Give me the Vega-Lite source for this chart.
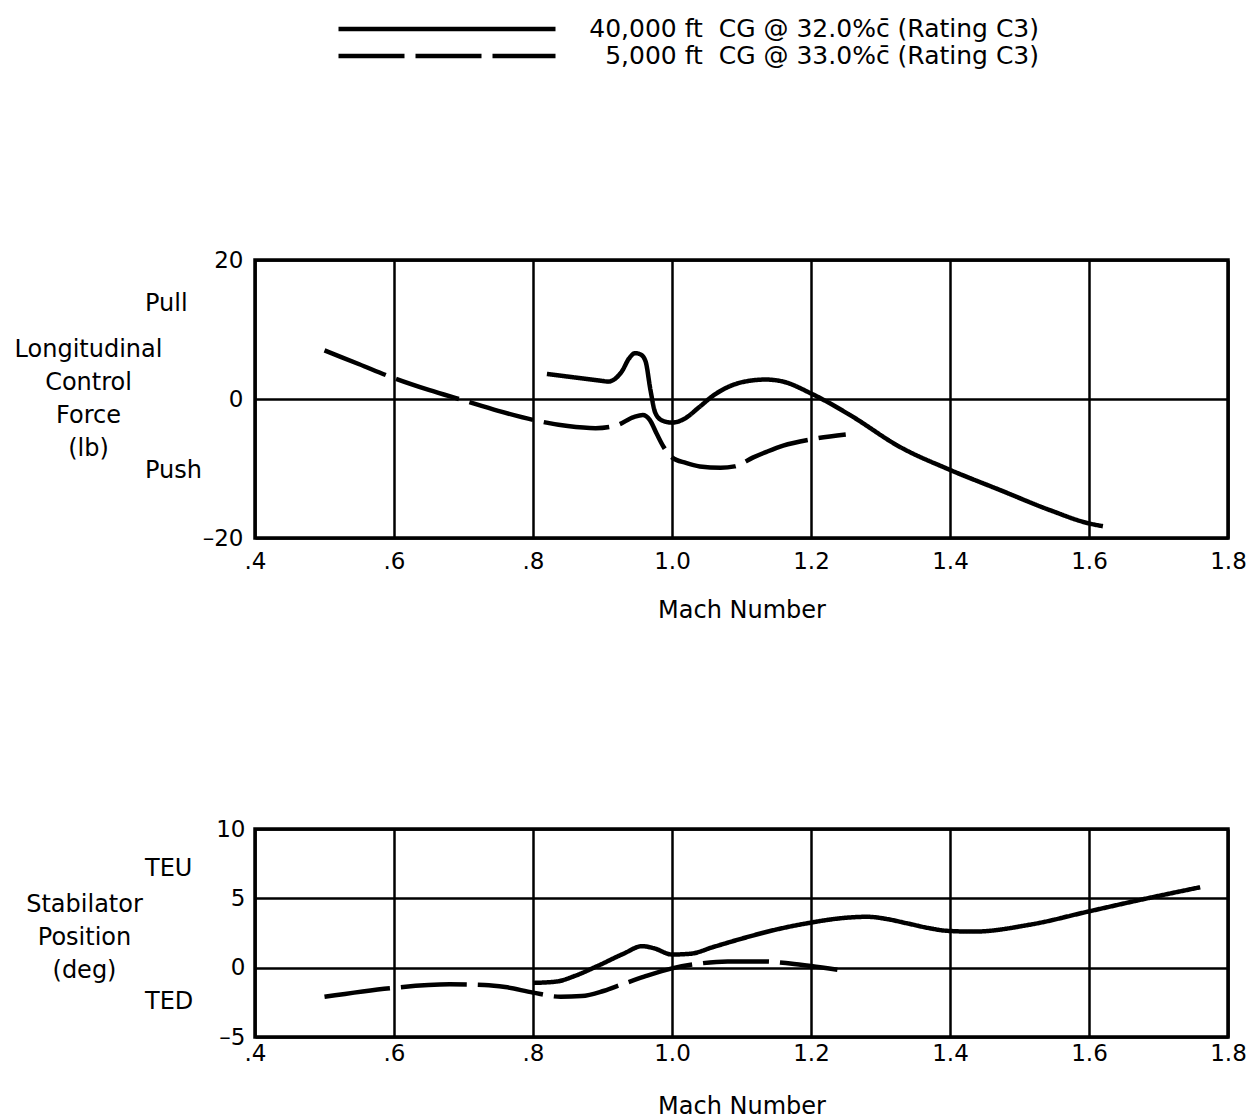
{
  "$schema": "https://vega.github.io/schema/vega-lite/v6.json",
  "background": "white",
  "padding": {"left": 12, "top": 16, "right": 5, "bottom": 5},
  "spacing": 192,
  "config": {
    "font": "DejaVu Sans",
    "view": {"stroke": "black", "strokeWidth": 3.5},
    "axis": {
      "domain": false, "ticks": false, "grid": true,
      "gridColor": "black", "gridWidth": 2.5, "gridOpacity": 1,
      "labelFont": "DejaVu Sans", "labelFontSize": 23, "labelColor": "black",
      "titleFont": "DejaVu Sans", "titleFontSize": 24, "titleColor": "black", "titleFontWeight": "normal"
    },
    "text": {"font": "DejaVu Sans", "fontSize": 24, "color": "black"}
  },
  "datasets": {
    "force": [
      {"mach": 0.82, "value": 3.6, "series": "40,000 ft\u00a0\u00a0CG @ 32.0%c\u0304 (Rating C3)"},
      {"mach": 0.86, "value": 3.1, "series": "40,000 ft\u00a0\u00a0CG @ 32.0%c\u0304 (Rating C3)"},
      {"mach": 0.9, "value": 2.6, "series": "40,000 ft\u00a0\u00a0CG @ 32.0%c\u0304 (Rating C3)"},
      {"mach": 0.908, "value": 2.5, "series": "40,000 ft\u00a0\u00a0CG @ 32.0%c\u0304 (Rating C3)"},
      {"mach": 0.918, "value": 2.9, "series": "40,000 ft\u00a0\u00a0CG @ 32.0%c\u0304 (Rating C3)"},
      {"mach": 0.928, "value": 4.0, "series": "40,000 ft\u00a0\u00a0CG @ 32.0%c\u0304 (Rating C3)"},
      {"mach": 0.938, "value": 5.8, "series": "40,000 ft\u00a0\u00a0CG @ 32.0%c\u0304 (Rating C3)"},
      {"mach": 0.947, "value": 6.6, "series": "40,000 ft\u00a0\u00a0CG @ 32.0%c\u0304 (Rating C3)"},
      {"mach": 0.955, "value": 6.4, "series": "40,000 ft\u00a0\u00a0CG @ 32.0%c\u0304 (Rating C3)"},
      {"mach": 0.962, "value": 5.4, "series": "40,000 ft\u00a0\u00a0CG @ 32.0%c\u0304 (Rating C3)"},
      {"mach": 0.969, "value": 1.3, "series": "40,000 ft\u00a0\u00a0CG @ 32.0%c\u0304 (Rating C3)"},
      {"mach": 0.976, "value": -2.0, "series": "40,000 ft\u00a0\u00a0CG @ 32.0%c\u0304 (Rating C3)"},
      {"mach": 0.986, "value": -3.1, "series": "40,000 ft\u00a0\u00a0CG @ 32.0%c\u0304 (Rating C3)"},
      {"mach": 1.0, "value": -3.4, "series": "40,000 ft\u00a0\u00a0CG @ 32.0%c\u0304 (Rating C3)"},
      {"mach": 1.015, "value": -3.0, "series": "40,000 ft\u00a0\u00a0CG @ 32.0%c\u0304 (Rating C3)"},
      {"mach": 1.04, "value": -1.1, "series": "40,000 ft\u00a0\u00a0CG @ 32.0%c\u0304 (Rating C3)"},
      {"mach": 1.058, "value": 0.4, "series": "40,000 ft\u00a0\u00a0CG @ 32.0%c\u0304 (Rating C3)"},
      {"mach": 1.08, "value": 1.7, "series": "40,000 ft\u00a0\u00a0CG @ 32.0%c\u0304 (Rating C3)"},
      {"mach": 1.11, "value": 2.6, "series": "40,000 ft\u00a0\u00a0CG @ 32.0%c\u0304 (Rating C3)"},
      {"mach": 1.135, "value": 2.8, "series": "40,000 ft\u00a0\u00a0CG @ 32.0%c\u0304 (Rating C3)"},
      {"mach": 1.16, "value": 2.5, "series": "40,000 ft\u00a0\u00a0CG @ 32.0%c\u0304 (Rating C3)"},
      {"mach": 1.2, "value": 0.8, "series": "40,000 ft\u00a0\u00a0CG @ 32.0%c\u0304 (Rating C3)"},
      {"mach": 1.256, "value": -2.3, "series": "40,000 ft\u00a0\u00a0CG @ 32.0%c\u0304 (Rating C3)"},
      {"mach": 1.328, "value": -6.9, "series": "40,000 ft\u00a0\u00a0CG @ 32.0%c\u0304 (Rating C3)"},
      {"mach": 1.4, "value": -10.2, "series": "40,000 ft\u00a0\u00a0CG @ 32.0%c\u0304 (Rating C3)"},
      {"mach": 1.472, "value": -13.1, "series": "40,000 ft\u00a0\u00a0CG @ 32.0%c\u0304 (Rating C3)"},
      {"mach": 1.544, "value": -16.0, "series": "40,000 ft\u00a0\u00a0CG @ 32.0%c\u0304 (Rating C3)"},
      {"mach": 1.6, "value": -17.9, "series": "40,000 ft\u00a0\u00a0CG @ 32.0%c\u0304 (Rating C3)"},
      {"mach": 1.62, "value": -18.3, "series": "40,000 ft\u00a0\u00a0CG @ 32.0%c\u0304 (Rating C3)"},
      {"mach": 0.5, "value": 7.0, "series": "5,000 ft\u00a0\u00a0CG @ 33.0%c\u0304 (Rating C3)"},
      {"mach": 0.55, "value": 5.0, "series": "5,000 ft\u00a0\u00a0CG @ 33.0%c\u0304 (Rating C3)"},
      {"mach": 0.6, "value": 3.0, "series": "5,000 ft\u00a0\u00a0CG @ 33.0%c\u0304 (Rating C3)"},
      {"mach": 0.65, "value": 1.3, "series": "5,000 ft\u00a0\u00a0CG @ 33.0%c\u0304 (Rating C3)"},
      {"mach": 0.7, "value": -0.2, "series": "5,000 ft\u00a0\u00a0CG @ 33.0%c\u0304 (Rating C3)"},
      {"mach": 0.75, "value": -1.7, "series": "5,000 ft\u00a0\u00a0CG @ 33.0%c\u0304 (Rating C3)"},
      {"mach": 0.8, "value": -3.0, "series": "5,000 ft\u00a0\u00a0CG @ 33.0%c\u0304 (Rating C3)"},
      {"mach": 0.85, "value": -3.9, "series": "5,000 ft\u00a0\u00a0CG @ 33.0%c\u0304 (Rating C3)"},
      {"mach": 0.89, "value": -4.2, "series": "5,000 ft\u00a0\u00a0CG @ 33.0%c\u0304 (Rating C3)"},
      {"mach": 0.92, "value": -3.8, "series": "5,000 ft\u00a0\u00a0CG @ 33.0%c\u0304 (Rating C3)"},
      {"mach": 0.945, "value": -2.6, "series": "5,000 ft\u00a0\u00a0CG @ 33.0%c\u0304 (Rating C3)"},
      {"mach": 0.958, "value": -2.3, "series": "5,000 ft\u00a0\u00a0CG @ 33.0%c\u0304 (Rating C3)"},
      {"mach": 0.968, "value": -3.0, "series": "5,000 ft\u00a0\u00a0CG @ 33.0%c\u0304 (Rating C3)"},
      {"mach": 0.978, "value": -5.0, "series": "5,000 ft\u00a0\u00a0CG @ 33.0%c\u0304 (Rating C3)"},
      {"mach": 0.988, "value": -6.9, "series": "5,000 ft\u00a0\u00a0CG @ 33.0%c\u0304 (Rating C3)"},
      {"mach": 1.0, "value": -8.4, "series": "5,000 ft\u00a0\u00a0CG @ 33.0%c\u0304 (Rating C3)"},
      {"mach": 1.02, "value": -9.2, "series": "5,000 ft\u00a0\u00a0CG @ 33.0%c\u0304 (Rating C3)"},
      {"mach": 1.04, "value": -9.7, "series": "5,000 ft\u00a0\u00a0CG @ 33.0%c\u0304 (Rating C3)"},
      {"mach": 1.07, "value": -9.9, "series": "5,000 ft\u00a0\u00a0CG @ 33.0%c\u0304 (Rating C3)"},
      {"mach": 1.09, "value": -9.7, "series": "5,000 ft\u00a0\u00a0CG @ 33.0%c\u0304 (Rating C3)"},
      {"mach": 1.117, "value": -8.4, "series": "5,000 ft\u00a0\u00a0CG @ 33.0%c\u0304 (Rating C3)"},
      {"mach": 1.136, "value": -7.6, "series": "5,000 ft\u00a0\u00a0CG @ 33.0%c\u0304 (Rating C3)"},
      {"mach": 1.16, "value": -6.7, "series": "5,000 ft\u00a0\u00a0CG @ 33.0%c\u0304 (Rating C3)"},
      {"mach": 1.2, "value": -5.8, "series": "5,000 ft\u00a0\u00a0CG @ 33.0%c\u0304 (Rating C3)"},
      {"mach": 1.25, "value": -5.1, "series": "5,000 ft\u00a0\u00a0CG @ 33.0%c\u0304 (Rating C3)"}
    ],
    "stab": [
      {"mach": 0.8, "value": -1.1, "series": "40,000 ft\u00a0\u00a0CG @ 32.0%c\u0304 (Rating C3)"},
      {"mach": 0.834, "value": -1.0, "series": "40,000 ft\u00a0\u00a0CG @ 32.0%c\u0304 (Rating C3)"},
      {"mach": 0.86, "value": -0.6, "series": "40,000 ft\u00a0\u00a0CG @ 32.0%c\u0304 (Rating C3)"},
      {"mach": 0.892, "value": 0.1, "series": "40,000 ft\u00a0\u00a0CG @ 32.0%c\u0304 (Rating C3)"},
      {"mach": 0.93, "value": 1.0, "series": "40,000 ft\u00a0\u00a0CG @ 32.0%c\u0304 (Rating C3)"},
      {"mach": 0.957, "value": 1.55, "series": "40,000 ft\u00a0\u00a0CG @ 32.0%c\u0304 (Rating C3)"},
      {"mach": 0.974, "value": 1.4, "series": "40,000 ft\u00a0\u00a0CG @ 32.0%c\u0304 (Rating C3)"},
      {"mach": 1.0, "value": 0.95, "series": "40,000 ft\u00a0\u00a0CG @ 32.0%c\u0304 (Rating C3)"},
      {"mach": 1.026, "value": 1.0, "series": "40,000 ft\u00a0\u00a0CG @ 32.0%c\u0304 (Rating C3)"},
      {"mach": 1.06, "value": 1.5, "series": "40,000 ft\u00a0\u00a0CG @ 32.0%c\u0304 (Rating C3)"},
      {"mach": 1.098, "value": 2.06, "series": "40,000 ft\u00a0\u00a0CG @ 32.0%c\u0304 (Rating C3)"},
      {"mach": 1.15, "value": 2.75, "series": "40,000 ft\u00a0\u00a0CG @ 32.0%c\u0304 (Rating C3)"},
      {"mach": 1.2, "value": 3.25, "series": "40,000 ft\u00a0\u00a0CG @ 32.0%c\u0304 (Rating C3)"},
      {"mach": 1.24, "value": 3.55, "series": "40,000 ft\u00a0\u00a0CG @ 32.0%c\u0304 (Rating C3)"},
      {"mach": 1.281, "value": 3.67, "series": "40,000 ft\u00a0\u00a0CG @ 32.0%c\u0304 (Rating C3)"},
      {"mach": 1.31, "value": 3.5, "series": "40,000 ft\u00a0\u00a0CG @ 32.0%c\u0304 (Rating C3)"},
      {"mach": 1.338, "value": 3.2, "series": "40,000 ft\u00a0\u00a0CG @ 32.0%c\u0304 (Rating C3)"},
      {"mach": 1.37, "value": 2.85, "series": "40,000 ft\u00a0\u00a0CG @ 32.0%c\u0304 (Rating C3)"},
      {"mach": 1.395, "value": 2.66, "series": "40,000 ft\u00a0\u00a0CG @ 32.0%c\u0304 (Rating C3)"},
      {"mach": 1.434, "value": 2.6, "series": "40,000 ft\u00a0\u00a0CG @ 32.0%c\u0304 (Rating C3)"},
      {"mach": 1.515, "value": 3.1, "series": "40,000 ft\u00a0\u00a0CG @ 32.0%c\u0304 (Rating C3)"},
      {"mach": 1.6, "value": 4.06, "series": "40,000 ft\u00a0\u00a0CG @ 32.0%c\u0304 (Rating C3)"},
      {"mach": 1.682, "value": 4.98, "series": "40,000 ft\u00a0\u00a0CG @ 32.0%c\u0304 (Rating C3)"},
      {"mach": 1.76, "value": 5.8, "series": "40,000 ft\u00a0\u00a0CG @ 32.0%c\u0304 (Rating C3)"},
      {"mach": 0.5, "value": -2.1, "series": "5,000 ft\u00a0\u00a0CG @ 33.0%c\u0304 (Rating C3)"},
      {"mach": 0.6, "value": -1.45, "series": "5,000 ft\u00a0\u00a0CG @ 33.0%c\u0304 (Rating C3)"},
      {"mach": 0.68, "value": -1.2, "series": "5,000 ft\u00a0\u00a0CG @ 33.0%c\u0304 (Rating C3)"},
      {"mach": 0.73, "value": -1.25, "series": "5,000 ft\u00a0\u00a0CG @ 33.0%c\u0304 (Rating C3)"},
      {"mach": 0.76, "value": -1.4, "series": "5,000 ft\u00a0\u00a0CG @ 33.0%c\u0304 (Rating C3)"},
      {"mach": 0.8, "value": -1.8, "series": "5,000 ft\u00a0\u00a0CG @ 33.0%c\u0304 (Rating C3)"},
      {"mach": 0.84, "value": -2.1, "series": "5,000 ft\u00a0\u00a0CG @ 33.0%c\u0304 (Rating C3)"},
      {"mach": 0.87, "value": -2.05, "series": "5,000 ft\u00a0\u00a0CG @ 33.0%c\u0304 (Rating C3)"},
      {"mach": 0.9, "value": -1.7, "series": "5,000 ft\u00a0\u00a0CG @ 33.0%c\u0304 (Rating C3)"},
      {"mach": 0.92, "value": -1.35, "series": "5,000 ft\u00a0\u00a0CG @ 33.0%c\u0304 (Rating C3)"},
      {"mach": 0.96, "value": -0.65, "series": "5,000 ft\u00a0\u00a0CG @ 33.0%c\u0304 (Rating C3)"},
      {"mach": 1.0, "value": -0.05, "series": "5,000 ft\u00a0\u00a0CG @ 33.0%c\u0304 (Rating C3)"},
      {"mach": 1.04, "value": 0.3, "series": "5,000 ft\u00a0\u00a0CG @ 33.0%c\u0304 (Rating C3)"},
      {"mach": 1.08, "value": 0.45, "series": "5,000 ft\u00a0\u00a0CG @ 33.0%c\u0304 (Rating C3)"},
      {"mach": 1.13, "value": 0.45, "series": "5,000 ft\u00a0\u00a0CG @ 33.0%c\u0304 (Rating C3)"},
      {"mach": 1.17, "value": 0.3, "series": "5,000 ft\u00a0\u00a0CG @ 33.0%c\u0304 (Rating C3)"},
      {"mach": 1.2, "value": 0.12, "series": "5,000 ft\u00a0\u00a0CG @ 33.0%c\u0304 (Rating C3)"},
      {"mach": 1.238, "value": -0.15, "series": "5,000 ft\u00a0\u00a0CG @ 33.0%c\u0304 (Rating C3)"}
    ],
    "forceLabels": [
      {"mach": 0.4, "value": 13.7, "label": "Pull"},
      {"mach": 0.4, "value": -10.3, "label": "Push"}
    ],
    "stabLabels": [
      {"mach": 0.4, "value": 7.1, "label": "TEU"},
      {"mach": 0.4, "value": -2.5, "label": "TED"}
    ]
  },
  "resolve": {"scale": {"strokeDash": "independent"}, "legend": {"strokeDash": "independent"}},
  "vconcat": [
    {
      "width": 973,
      "height": 278,
      "layer": [
        {
          "data": {"name": "force"},
          "mark": {"type": "line", "interpolate": "monotone", "strokeWidth": 4.5, "color": "black", "strokeCap": "butt"},
          "encoding": {
            "x": {
              "field": "mach", "type": "quantitative",
              "scale": {"domain": [0.4, 1.8], "nice": false},
              "axis": {
                "values": [0.4, 0.6, 0.8, 1.0, 1.2, 1.4, 1.6, 1.8],
                "labelExpr": "datum.value < 0.99 ? '.' + round(datum.value * 10) : format(datum.value, '.1f')",
                "labelFlush": false, "labelOverlap": false,
                "labelPadding": 12,
                "title": "Mach Number",
                "titleY": 60, "titleBaseline": "top"
              }
            },
            "y": {
              "field": "value", "type": "quantitative",
              "scale": {"domain": [-20, 20], "nice": false},
              "axis": {
                "values": [-20, 0, 20],
                "labelExpr": "datum.value < 0 ? '\u2013' + (-datum.value) : '' + datum.value",
                "labelPadding": 12,
                "title": ["Longitudinal", "Control", "Force", "(lb)"],
                "titleAngle": 0, "titleAlign": "center", "titleBaseline": "alphabetic",
                "titleX": -167, "titleY": 96, "titleLineHeight": 33
              }
            },
            "strokeDash": {
              "field": "series", "type": "nominal",
              "scale": {
                "domain": ["40,000 ft\u00a0\u00a0CG @ 32.0%c\u0304 (Rating C3)", "5,000 ft\u00a0\u00a0CG @ 33.0%c\u0304 (Rating C3)"],
                "range": [[1, 0], [66, 11]]
              },
              "legend": {
                "orient": "none", "legendX": 81, "legendY": -242,
                "title": null, "padding": 0,
                "symbolType": "stroke", "symbolSize": 47089, "symbolStrokeWidth": 4.5, "symbolStrokeColor": "black",
                "clipHeight": 22,
                "labelFont": "DejaVu Sans", "labelFontSize": 25, "labelColor": "black", "labelLimit": 700,
                "labelAlign": "right", "labelOffset": 481, "rowPadding": 2
              }
            }
          }
        },
        {
          "data": {"name": "forceLabels"},
          "mark": {"type": "text", "align": "left", "dx": -110},
          "encoding": {
            "x": {"field": "mach", "type": "quantitative"},
            "y": {"field": "value", "type": "quantitative"},
            "text": {"field": "label"}
          }
        }
      ]
    },
    {
      "width": 973,
      "height": 208,
      "layer": [
        {
          "data": {"name": "stab"},
          "mark": {"type": "line", "interpolate": "monotone", "strokeWidth": 4.5, "color": "black", "strokeCap": "butt"},
          "encoding": {
            "x": {
              "field": "mach", "type": "quantitative",
              "scale": {"domain": [0.4, 1.8], "nice": false},
              "axis": {
                "values": [0.4, 0.6, 0.8, 1.0, 1.2, 1.4, 1.6, 1.8],
                "labelExpr": "datum.value < 0.99 ? '.' + round(datum.value * 10) : format(datum.value, '.1f')",
                "labelFlush": false, "labelOverlap": false,
                "labelPadding": 5,
                "title": "Mach Number",
                "titleY": 57, "titleBaseline": "top"
              }
            },
            "y": {
              "field": "value", "type": "quantitative",
              "scale": {"domain": [-5, 10], "nice": false},
              "axis": {
                "values": [-5, 0, 5, 10],
                "labelExpr": "datum.value < 0 ? '\u2013' + (-datum.value) : '' + datum.value",
                "labelPadding": 10,
                "title": ["Stabilator", "Position", "(deg)"],
                "titleAngle": 0, "titleAlign": "center", "titleBaseline": "alphabetic",
                "titleX": -171, "titleY": 82, "titleLineHeight": 33
              }
            },
            "strokeDash": {
              "field": "series", "type": "nominal",
              "scale": {
                "domain": ["40,000 ft\u00a0\u00a0CG @ 32.0%c\u0304 (Rating C3)", "5,000 ft\u00a0\u00a0CG @ 33.0%c\u0304 (Rating C3)"],
                "range": [[1, 0], [66, 11]]
              },
              "legend": null
            }
          }
        },
        {
          "data": {"name": "stabLabels"},
          "mark": {"type": "text", "align": "left", "dx": -110},
          "encoding": {
            "x": {"field": "mach", "type": "quantitative"},
            "y": {"field": "value", "type": "quantitative"},
            "text": {"field": "label"}
          }
        }
      ]
    }
  ]
}
